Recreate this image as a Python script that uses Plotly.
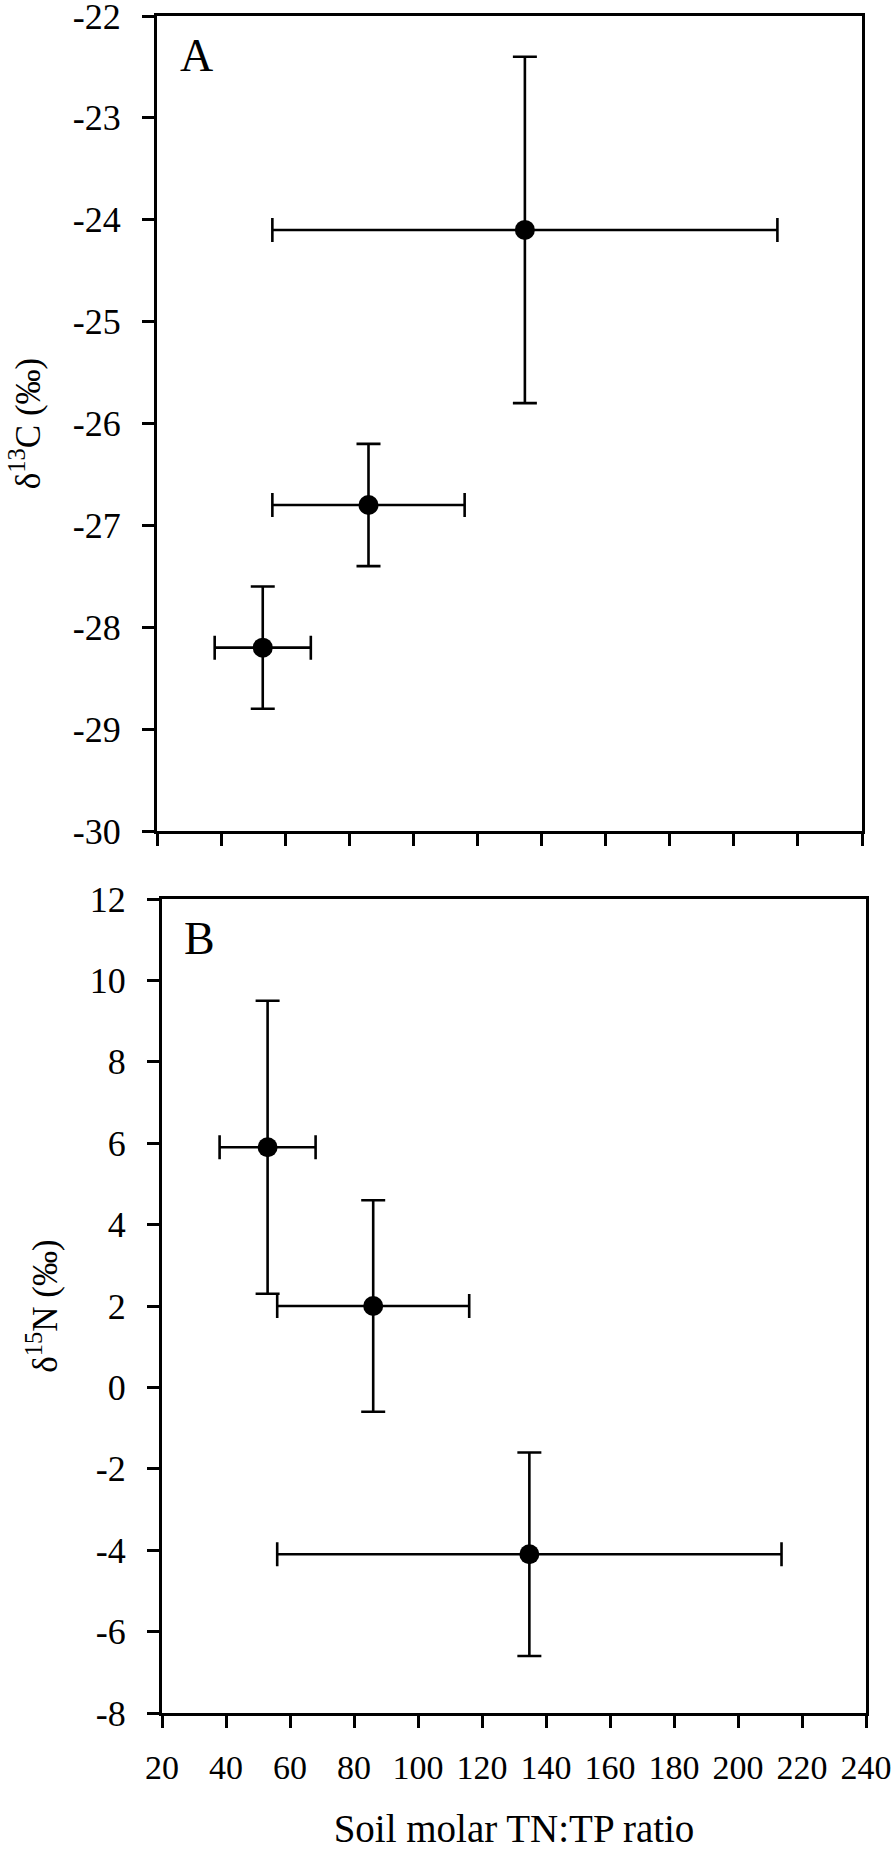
import plotly.graph_objects as go

# ---- data ----
tn_tp_ratio = [53.0, 86.0, 134.8]
tn_tp_err = [15.0, 30.0, 78.8]
d13c = [-28.2, -26.8, -24.1]
d13c_err = [0.6, 0.6, 1.7]
d15n = [5.9, 2.0, -4.1]
d15n_err = [3.6, 2.6, 2.5]

x_ticks = list(range(20, 241, 20))
y13_ticks = list(range(-30, -21, 1))
y15_ticks = list(range(-8, 13, 2))

W, H = 894, 1850
FONT = "Liberation Serif, DejaVu Serif, serif"
LW = 3


def labels(vals):
    return [str(v) for v in vals]  # plain hyphen minus, as in the reference


fig = go.Figure()

err_style = dict(type="data", symmetric=True, color="black", thickness=2.6, width=12)

fig.add_trace(go.Scatter(
    x=tn_tp_ratio, y=d13c, mode="markers",
    marker=dict(color="black", size=20),
    error_x=dict(array=tn_tp_err, **err_style),
    error_y=dict(array=d13c_err, **err_style),
    xaxis="x", yaxis="y", showlegend=False, cliponaxis=False,
))
fig.add_trace(go.Scatter(
    x=tn_tp_ratio, y=d15n, mode="markers",
    marker=dict(color="black", size=20),
    error_x=dict(array=tn_tp_err, **err_style),
    error_y=dict(array=d15n_err, **err_style),
    xaxis="x2", yaxis="y2", showlegend=False, cliponaxis=False,
))

common_axis = dict(
    showline=True, linecolor="black", linewidth=LW, mirror=True,
    ticks="outside", ticklen=12, tickwidth=LW, tickcolor="black",
    showgrid=False, zeroline=False, ticklabeloverflow="allow",
    tickfont=dict(family=FONT, size=36, color="black"),
)

fig.update_layout(
    width=W, height=H,
    margin=dict(l=0, r=0, t=0, b=0, autoexpand=False),
    paper_bgcolor="white", plot_bgcolor="white",
    font=dict(family=FONT, color="black"),
    xaxis=dict(
        domain=[157 / W, 862 / W], anchor="y", range=[20, 240],
        tickmode="array", tickvals=x_ticks, showticklabels=False,
        **common_axis,
    ),
    yaxis=dict(
        domain=[1 - 831 / H, 1 - 16 / H], anchor="x", range=[-30, -22],
        tickmode="array", tickvals=y13_ticks, ticktext=labels(y13_ticks),
        ticklabelstandoff=14,
        title=dict(text="δ<sup>13</sup>C (‰)", font=dict(family=FONT, size=35, color="black"), standoff=22),
        **common_axis,
    ),
    xaxis2=dict(
        domain=[162 / W, 866 / W], anchor="y2", range=[20, 240],
        tickmode="array", tickvals=x_ticks, ticktext=labels(x_ticks),
        ticklabelstandoff=10,
        title=dict(text="Soil molar TN:TP ratio", font=dict(family=FONT, size=39, color="black"), standoff=52),
        **{**common_axis, "tickfont": dict(family=FONT, size=34, color="black")},
    ),
    yaxis2=dict(
        domain=[1 - 1713 / H, 1 - 899 / H], anchor="x2", range=[-8, 12],
        tickmode="array", tickvals=y15_ticks, ticktext=labels(y15_ticks),
        ticklabelstandoff=14,
        title=dict(text="δ<sup>15</sup>N (‰)", font=dict(family=FONT, size=35, color="black"), standoff=22),
        **common_axis,
    ),
    annotations=[
        dict(text="A", xref="x domain", yref="y domain", x=0.03, y=0.985,
             xanchor="left", yanchor="top", showarrow=False,
             font=dict(family=FONT, size=46, color="black")),
        dict(text="B", xref="x2 domain", yref="y2 domain", x=0.028, y=0.985,
             xanchor="left", yanchor="top", showarrow=False,
             font=dict(family=FONT, size=46, color="black")),
    ],
)

fig.write_html(
    "out.html",
    config={"displayModeBar": False},
    post_script="document.body.style.margin='0';document.body.style.overflow='hidden';",
)
